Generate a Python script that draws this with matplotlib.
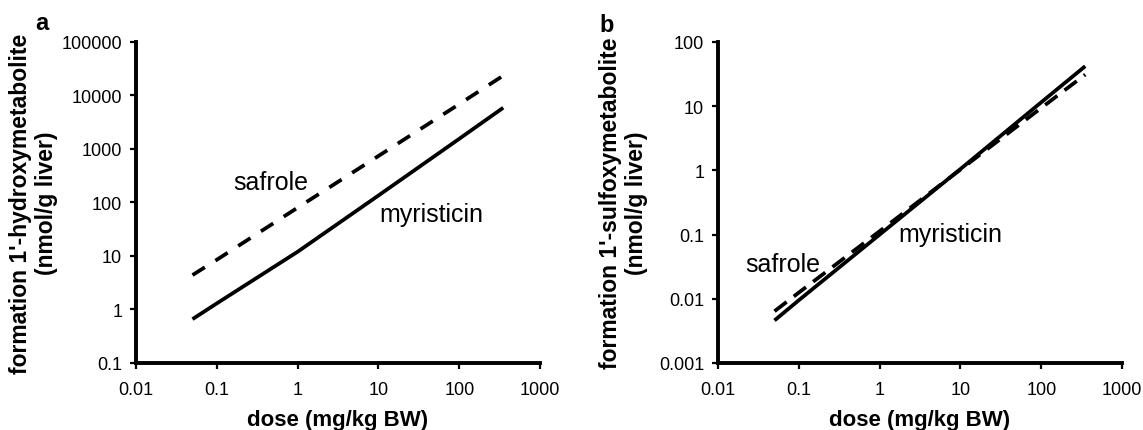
import matplotlib
matplotlib.use("Agg")
import matplotlib.pyplot as plt
from matplotlib.ticker import FixedLocator, NullLocator

plt.rcParams['font.family'] = ['Liberation Sans', 'DejaVu Sans']
plt.rcParams['lines.scale_dashes'] = False

# doses (mg/kg BW) at which the model curves are read
dose = [0.05, 0.1, 1, 10, 100, 350]

# a: 1'-hydroxymetabolite formation (nmol/g liver)
hydroxy_myristicin = [0.66, 1.3, 12, 135, 1550, 5900]
hydroxy_safrole = [4.4, 8.5, 80, 740, 6900, 23500]

# b: 1'-sulfoxymetabolite formation (nmol/g liver)
sulfoxy_myristicin = [0.0046, 0.0095, 0.1, 1.05, 11.5, 42]
sulfoxy_safrole = [0.0064, 0.0125, 0.113, 1.03, 9.4, 31]

x_ticks = [0.01, 0.1, 1, 10, 100, 1000]
x_ticklabels = ['0.01', '0.1', '1', '10', '100', '1000']
ya_ticks = [0.1, 1, 10, 100, 1000, 10000, 100000]
ya_ticklabels = ['0.1', '1', '10', '100', '1000', '10000', '100000']
yb_ticks = [0.001, 0.01, 0.1, 1, 10, 100]
yb_ticklabels = ['0.001', '0.01', '0.1', '1', '10', '100']

fig = plt.figure(figsize=(11.43, 4.31), dpi=100)
ax_a = fig.add_axes([0.119, 0.1555, 0.3535, 0.7448])
ax_b = fig.add_axes([0.6282, 0.1555, 0.3535, 0.7448])


def style_axes(ax, yticks, yticklabels, ylabel, label_x):
    ax.set_xscale('log')
    ax.set_yscale('log')
    ax.set_xlim(x_ticks[0], x_ticks[-1])
    ax.set_ylim(yticks[0], yticks[-1])
    ax.xaxis.set_major_locator(FixedLocator(x_ticks))
    ax.yaxis.set_major_locator(FixedLocator(yticks))
    ax.xaxis.set_minor_locator(NullLocator())
    ax.yaxis.set_minor_locator(NullLocator())
    ax.set_xticklabels(x_ticklabels)
    ax.set_yticklabels(yticklabels)
    for side in ['top', 'right']:
        ax.spines[side].set_visible(False)
    for side in ['left', 'bottom']:
        ax.spines[side].set_linewidth(2.8)
        ax.spines[side].set_color('black')
    ax.tick_params(direction='out', length=4, width=1.6, labelsize=13,
                   color='black')
    ax.tick_params(axis='x', pad=9)
    ax.tick_params(axis='y', pad=6)
    ax.set_xlabel('dose (mg/kg BW)', fontsize=16, fontweight='bold',
                  labelpad=8)
    ax.set_ylabel(ylabel, fontsize=16.5, fontweight='bold',
                  linespacing=1.15)
    # the label anchor is the right edge of the rotated text block
    ax.yaxis.set_label_coords(label_x, 0.5)


# panel a
ax_a.plot(dose, hydroxy_myristicin, color='black', lw=2.7,
          solid_capstyle='butt')
ax_a.plot(dose, hydroxy_safrole, color='black', lw=2.7,
          dashes=(10.5, 9), dash_capstyle='butt')
ax_a.text(0.16, 240, 'safrole', fontsize=18, va='center', ha='left')
ax_a.text(10.2, 61, 'myristicin', fontsize=18, va='center', ha='left')
style_axes(ax_a, ya_ticks, ya_ticklabels,
           "formation 1'-hydroxymetabolite\n(nmol/g liver)", -0.193)

# panel b
ax_b.plot(dose, sulfoxy_myristicin, color='black', lw=2.7,
          solid_capstyle='butt')
ax_b.plot(dose, sulfoxy_safrole, color='black', lw=2.7,
          dashes=(11, 6.5), dash_capstyle='butt')
ax_b.text(0.0216, 0.035, 'safrole', fontsize=18, va='center', ha='left')
ax_b.text(1.69, 0.102, 'myristicin', fontsize=18, va='center', ha='left')
style_axes(ax_b, yb_ticks, yb_ticklabels,
           "formation 1'-sulfoxymetabolite\n(nmol/g liver)", -0.173)

fig.text(42 / 1143, 1 - 24 / 431, 'a', fontsize=17, fontweight='bold',
         ha='center', va='center')
fig.text(607 / 1143, 1 - 25 / 431, 'b', fontsize=17, fontweight='bold',
         ha='center', va='center')

fig.savefig('out.png', dpi=100)
